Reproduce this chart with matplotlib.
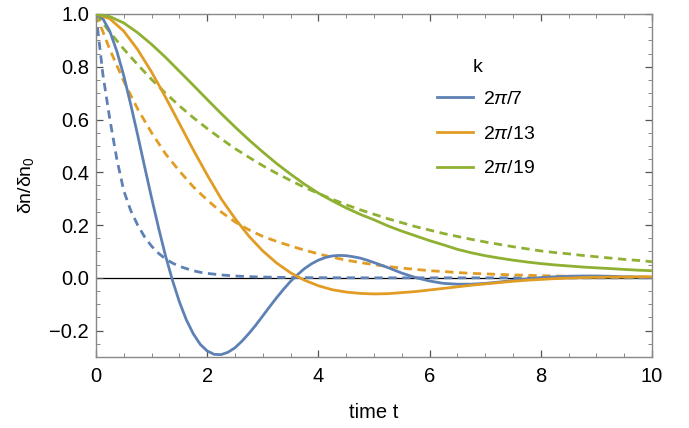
import numpy as np
import matplotlib.pyplot as plt
from matplotlib.ticker import MultipleLocator, FuncFormatter
from matplotlib.lines import Line2D

plt.rcParams['font.family'] = ['Liberation Sans', 'DejaVu Sans']
plt.rcParams['mathtext.fontset'] = 'custom'
plt.rcParams['mathtext.rm'] = 'Liberation Sans'
plt.rcParams['mathtext.it'] = 'Liberation Sans:italic'

# time grid (every 0.25)
t = [0.0, 0.25, 0.5, 0.75, 1.0, 1.25, 1.5, 1.75, 2.0, 2.25, 2.5, 2.75, 3.0, 3.25,
     3.5, 3.75, 4.0, 4.25, 4.5, 4.75, 5.0, 5.25, 5.5, 5.75, 6.0, 6.25, 6.5, 6.75,
     7.0, 7.25, 7.5, 7.75, 8.0, 8.25, 8.5, 8.75, 9.0, 9.25, 9.5, 9.75, 10.0]
# finer grid for the fast k = 2pi/7 curves
t_blue = [0.0, 0.125, 0.25, 0.375, 0.5, 0.625, 0.75, 0.875, 1.0, 1.125, 1.25, 1.375,
          1.5, 1.625, 1.75, 1.875, 2.0, 2.125, 2.25, 2.375, 2.5, 2.625, 2.75, 2.875,
          3.0, 3.125, 3.25, 3.375, 3.5, 3.625, 3.75, 3.875, 4.0, 4.125, 4.25, 4.375,
          4.5, 4.625, 4.75, 4.875, 5.0, 5.25, 5.5, 5.75, 6.0, 6.25, 6.5, 6.75, 7.0,
          7.25, 7.5, 7.75, 8.0, 8.25, 8.5, 8.75, 9.0, 9.25, 9.5, 9.75, 10.0]

labels = [r'$2\pi/7$', r'$2\pi/13$', r'$2\pi/19$']
colors = ['#5e81b5', '#e19c24', '#8fb032']

# solid curves
blue_solid = [1.0, 0.982, 0.934, 0.859, 0.766, 0.657, 0.541, 0.421, 0.303, 0.190,
              0.084, -0.009, -0.091, -0.159, -0.212, -0.252, -0.277, -0.290, -0.291, -0.282,
              -0.265, -0.240, -0.211, -0.179, -0.144, -0.109, -0.075, -0.043, -0.013, 0.012,
              0.035, 0.053, 0.067, 0.077, 0.083, 0.085, 0.084, 0.080, 0.075, 0.067,
              0.058, 0.039, 0.018, 0.001, -0.012, -0.021, -0.024, -0.024, -0.021, -0.016,
              -0.010, -0.004, 0.001, 0.004, 0.006, 0.007, 0.007, 0.006, 0.004, 0.003, 0.001]
orange_solid = [1.0, 0.982, 0.935, 0.865, 0.78, 0.685, 0.585, 0.485, 0.39, 0.30,
                0.225, 0.158, 0.102, 0.056, 0.019, -0.009, -0.030, -0.045, -0.054, -0.059,
                -0.061, -0.060, -0.056, -0.052, -0.046, -0.040, -0.034, -0.028, -0.023, -0.018,
                -0.013, -0.009, -0.006, -0.003, -0.001, 0.001, 0.002, 0.003, 0.003, 0.004, 0.004]
green_solid = [1.0, 0.990, 0.966, 0.929, 0.885, 0.836, 0.783, 0.730, 0.676, 0.623,
               0.572, 0.523, 0.477, 0.433, 0.393, 0.355, 0.321, 0.292, 0.265, 0.241,
               0.220, 0.197, 0.177, 0.159, 0.141, 0.125, 0.108, 0.095, 0.084, 0.075,
               0.067, 0.060, 0.054, 0.049, 0.045, 0.041, 0.038, 0.035, 0.032, 0.029, 0.027]

# dashed curves
blue_dashed = [1.0, 0.77, 0.60, 0.45, 0.33, 0.255, 0.20, 0.155, 0.12, 0.093,
               0.072, 0.056, 0.044, 0.035, 0.027, 0.021, 0.017, 0.014, 0.011, 0.009,
               0.007, 0.0057, 0.0045, 0.0037, 0.003, 0.0025, 0.002, 0.0016, 0.0013, 0.001,
               0.0008, 0.0006, 0.0005, 0.0004, 0.0003, 0.0002, 0.0002, 0.0001, 0.0001, 0.0,
               0.0, 0.0, 0.0, 0.0, 0.0, 0.0, 0.0, 0.0, 0.0, 0.0,
               0.0, 0.0, 0.0, 0.0, 0.0, 0.0, 0.0, 0.0, 0.0, 0.0, 0.0]
orange_dashed = [1.0, 0.865, 0.745, 0.64, 0.55, 0.47, 0.405, 0.345, 0.295, 0.25,
                 0.212, 0.182, 0.157, 0.138, 0.121, 0.105, 0.091, 0.078, 0.067, 0.058,
                 0.050, 0.043, 0.037, 0.032, 0.027, 0.024, 0.020, 0.017, 0.015, 0.013,
                 0.011, 0.010, 0.008, 0.007, 0.006, 0.005, 0.0045, 0.004, 0.0033, 0.0029, 0.0025]
green_dashed = [1.0, 0.931, 0.867, 0.808, 0.752, 0.700, 0.652, 0.607, 0.566, 0.527,
                0.490, 0.457, 0.425, 0.396, 0.369, 0.343, 0.320, 0.298, 0.277, 0.258,
                0.241, 0.224, 0.209, 0.194, 0.181, 0.168, 0.157, 0.146, 0.136, 0.127,
                0.118, 0.110, 0.102, 0.096, 0.091, 0.085, 0.080, 0.075, 0.070, 0.066, 0.061]

solids = [(t_blue, blue_solid), (t, orange_solid), (t, green_solid)]
dashes = [(t_blue, blue_dashed), (t, orange_dashed), (t, green_dashed)]

fig = plt.figure(figsize=(6.89, 4.28), dpi=100)
ax = fig.add_axes([0.1393, 0.1659, 0.807, 0.8014])

ax.axhline(0, color='black', linewidth=0.9, zorder=1)

lw = 2.0
for (xs, ys), c in zip(solids, colors):
    ax.plot(xs, ys, color=c, linewidth=lw, zorder=3)
for (xs, ys), c in zip(dashes, colors):
    ax.plot(xs, ys, color=c, linewidth=lw, dashes=(3.0, 2.0), zorder=2)

ax.set_xlim(0, 10)
ax.set_ylim(-0.3, 1.0)

ax.xaxis.set_major_locator(MultipleLocator(2))
ax.xaxis.set_minor_locator(MultipleLocator(0.5))
ax.yaxis.set_major_locator(MultipleLocator(0.2))
ax.yaxis.set_minor_locator(MultipleLocator(0.05))


def yfmt(v, pos):
    if abs(v) < 1e-9:
        v = 0.0
    return f'{v:.1f}'.replace('-', '\u2212')


ax.yaxis.set_major_formatter(FuncFormatter(yfmt))

for s in ax.spines.values():
    s.set_color('#888888')
    s.set_linewidth(1.0)
ax.tick_params(which='both', direction='in', top=True, right=True,
               color='#555555', labelsize=14.5)
ax.tick_params(which='major', length=5, width=0.9)
ax.tick_params(which='minor', length=3, width=0.7, color='#888888')
ax.tick_params(axis='x', pad=7)
ax.tick_params(axis='y', pad=5)

ax.set_xlabel('time t', fontsize=14.5)
ax.set_ylabel(r'δn/δn$_0$', fontsize=14)
ax.xaxis.set_label_coords(0.5, -0.134)
ax.yaxis.set_label_coords(-0.108, 0.5)

handles = [Line2D([], [], color=c, linewidth=lw) for c in colors]
leg = ax.legend(handles, labels, loc='upper left', bbox_to_anchor=(0.6, 0.80),
                frameon=False, fontsize=14, handlelength=1.85, handletextpad=0.5,
                labelspacing=0.88, borderaxespad=0)
ax.text(0.687, 0.845, 'k', transform=ax.transAxes, fontsize=14,
        ha='center', va='center')

fig.savefig('out.png', dpi=100)
